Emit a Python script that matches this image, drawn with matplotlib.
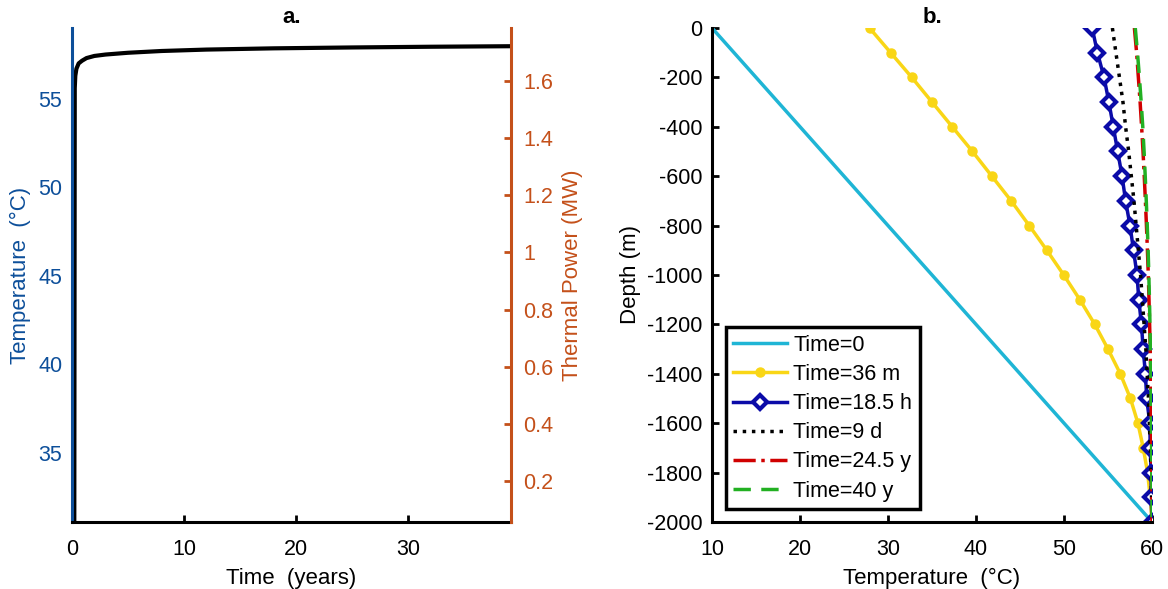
import matplotlib
matplotlib.use('Agg')
from matplotlib import pyplot as plt
import matplotlib.ticker as tick

plt.rcParams['font.family'] = ['Liberation Sans', 'DejaVu Sans']
plt.rcParams['font.size'] = 15.5
plt.rcParams['axes.unicode_minus'] = False

# panel a: outlet temperature vs time
time_years = [0.2, 0.25, 0.3, 0.4, 0.6, 0.9, 1.3, 2, 3, 5, 8, 12, 18, 25, 32, 39.2]
outlet_temp = [25, 55.6, 56.3, 56.7, 57.0, 57.15, 57.3, 57.42, 57.5, 57.6, 57.7,
               57.78, 57.85, 57.9, 57.94, 57.97]

# panel b: temperature profiles along depth
depth = [0, -100, -200, -300, -400, -500, -600, -700, -800, -900, -1000,
         -1100, -1200, -1300, -1400, -1500, -1600, -1700, -1800, -1900, -2000]
t0_depth = [0, -2000]
t0_temp = [10, 60]
t36m = [27.9, 30.3, 32.7, 35.0, 37.3, 39.6, 41.8, 44.0, 46.05, 48.05, 49.97,
        51.8, 53.5, 55.0, 56.4, 57.55, 58.4, 59.0, 59.5, 59.8, 60.0]
t18h = [53.2, 53.8, 54.55, 55.1, 55.6, 56.1, 56.6, 57.0, 57.5, 57.9, 58.3,
        58.5, 58.8, 59.0, 59.25, 59.4, 59.75, 59.8, 59.9, 59.9, 60.0]
t9d = [55.5, 55.9, 56.3, 56.7, 57.0, 57.35, 57.65, 57.95, 58.2, 58.45, 58.7,
       58.9, 59.1, 59.3, 59.45, 59.6, 59.7, 59.8, 59.9, 59.95, 60.0]
t24y = [58.0, 58.25, 58.45, 58.65, 58.82, 58.98, 59.12, 59.25, 59.37, 59.48, 59.58,
        59.66, 59.73, 59.8, 59.85, 59.89, 59.93, 59.96, 59.98, 59.99, 60.0]
t40y = [58.1, 58.35, 58.57, 58.77, 58.95, 59.1, 59.23, 59.35, 59.46, 59.56, 59.64,
        59.71, 59.77, 59.82, 59.87, 59.9, 59.93, 59.96, 59.98, 59.99, 60.0]

blue = '#0d4f9a'
orange = '#c4501a'
spine_w = 2.2
label_fs = 16

fig = plt.figure(figsize=(11.68, 5.89), dpi=100)

# ---------- panel a ----------
ax = fig.add_axes([0.0616, 0.1138, 0.3759, 0.8387])
ax.plot(time_years, outlet_temp, color='black', lw=3, solid_capstyle='round')
ax.set_xlim(0, 39.2)
ax.set_ylim(31.1, 59.0)
ax.set_xticks([0, 10, 20, 30])
ax.set_yticks([35, 40, 45, 50, 55])
ax.spines['top'].set_visible(False)
ax.spines['right'].set_visible(False)
ax.spines['left'].set_color(blue)
ax.spines['left'].set_linewidth(spine_w)
ax.spines['bottom'].set_linewidth(spine_w)
ax.tick_params(axis='x', direction='in', length=5, width=2, pad=12)
ax.tick_params(axis='y', direction='in', length=3, width=1.5, colors=blue, pad=7)
ax.set_xlabel('Time  (years)', fontsize=label_fs)
ax.set_ylabel('Temperature  (°C)', color=blue, fontsize=label_fs)
ax.xaxis.set_label_coords(0.5, -0.093)
ax.yaxis.set_label_coords(-0.093, 0.5)
ax.set_title('a.', fontweight='bold', fontsize=16, pad=3)

ax2 = ax.twinx()
ax2.set_ylim(0.057, 1.785)
ax2.set_yticks([0.2, 0.4, 0.6, 0.8, 1.0, 1.2, 1.4, 1.6])
ax2.yaxis.set_major_formatter(tick.FormatStrFormatter('%g'))
for s in ['top', 'left', 'bottom']:
    ax2.spines[s].set_visible(False)
ax2.spines['right'].set_color(orange)
ax2.spines['right'].set_linewidth(spine_w)
ax2.tick_params(axis='y', direction='in', length=5, width=2, colors=orange, pad=9)
ax2.set_ylabel('Thermal Power (MW)', color=orange, fontsize=label_fs)
ax2.yaxis.set_label_coords(1.116, 0.5)

# ---------- panel b ----------
bx = fig.add_axes([0.6096, 0.1138, 0.3767, 0.8387])
bx.plot(t0_temp, t0_depth, color='#1fb5d5', lw=2.5, label='Time=0')
bx.plot(t36m, depth, color='#f9d616', lw=2.5, marker='o', markersize=6.5,
        label='Time=36 m')
bx.plot(t18h, depth, color='#0b0ba8', lw=2.5, marker='D', markersize=7.5,
        markerfacecolor='white', markeredgewidth=3, label='Time=18.5 h')
bx.plot(t9d, depth, color='black', lw=2.5, ls=':', label='Time=9 d')
bx.plot(t24y, depth, color='#d00000', lw=2.5, ls='-.', label='Time=24.5 y')
bx.plot(t40y, depth, color='#22b022', lw=2.5, ls=(0, (5, 3)), label='Time=40 y')
bx.set_xlim(10, 60)
bx.set_ylim(-2000, 0)
bx.set_xticks([10, 20, 30, 40, 50, 60])
bx.set_yticks(list(range(-2000, 1, 200)))
bx.spines['top'].set_visible(False)
bx.spines['right'].set_visible(False)
bx.spines['left'].set_linewidth(spine_w)
bx.spines['bottom'].set_linewidth(spine_w)
bx.tick_params(axis='both', direction='in', length=5, width=2)
bx.tick_params(axis='x', pad=12)
bx.tick_params(axis='y', pad=7)
bx.set_xlabel('Temperature  (°C)', fontsize=label_fs)
bx.set_ylabel('Depth (m)', fontsize=label_fs)
bx.xaxis.set_label_coords(0.5, -0.093)
bx.yaxis.set_label_coords(-0.161, 0.5)
bx.set_title('b.', fontweight='bold', fontsize=16, pad=3)

leg = bx.legend(loc='lower left', bbox_to_anchor=(0.031, 0.026), borderaxespad=0,
                fancybox=False, framealpha=1, edgecolor='black', fontsize=15.5,
                handlelength=2.5, handletextpad=0.3, labelspacing=0.38,
                borderpad=0.35, numpoints=1)
leg.get_frame().set_linewidth(2.5)

fig.savefig('out.png', dpi=100)
